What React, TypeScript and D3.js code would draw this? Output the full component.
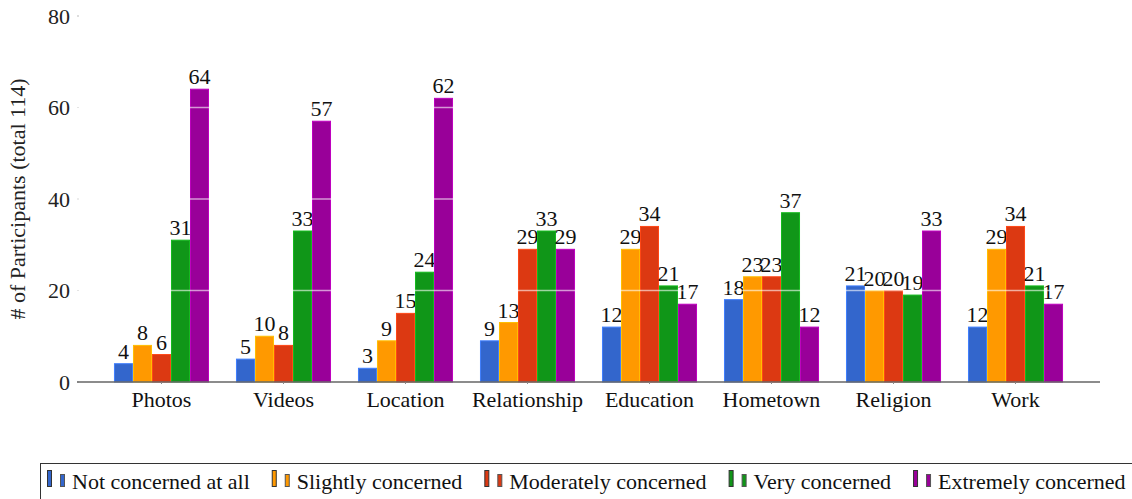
import React from "react";
import * as d3 from "d3";

const categories = ["Photos", "Videos", "Location", "Relationship", "Education", "Hometown", "Religion", "Work"];
const seriesNames = ["Not concerned at all", "Slightly concerned", "Moderately concerned", "Very concerned", "Extremely concerned"];
const notConcerned = [4, 5, 3, 9, 12, 18, 21, 12];
const slightly = [8, 10, 9, 13, 29, 23, 20, 29];
const moderately = [6, 8, 15, 29, 34, 23, 20, 34];
const very = [31, 33, 24, 33, 21, 37, 19, 21];
const extremely = [64, 57, 62, 29, 17, 12, 33, 17];
const yTicks = [0, 20, 40, 60, 80];
const colors = ["#3366cc", "#ff9900", "#dc3912", "#109618", "#990099"];

const seriesValues = [notConcerned, slightly, moderately, very, extremely];

const W = 1132;
const H = 499;
const FONT = "'Liberation Serif', 'Times New Roman', serif";
const FS = 22;

function measure(text: string, size: number) {
  const c = document.createElement("canvas").getContext("2d");
  if (!c) return text.length * size * 0.45;
  c.font = `${size}px ${FONT}`;
  return c.measureText(text).width;
}

export default function App() {
  const left = 77, right = 1100, top = 16, bottom = 382;
  const y = d3.scaleLinear().domain([0, 80]).range([bottom, top]);
  const x0 = d3.scaleBand<string>().domain(categories).range([left, right]).paddingInner(0.221).paddingOuter(0.303);
  const x1 = d3.scaleBand<number>().domain(d3.range(seriesNames.length)).range([0, x0.bandwidth()]).padding(0);

  const legendItems: { name: string; x: number; color: string }[] = [];
  let lx = 47;
  seriesNames.forEach((n, i) => {
    legendItems.push({ name: n, x: lx, color: colors[i] });
    lx += 25 + measure(n, FS) + 22;
  });

  return (
    <svg width={W} height={H} style={{ position: "absolute", left: 0, top: 0, background: "#fff" }} fontFamily={FONT}>
      {yTicks.map((t) => (
        <g key={t}>
          <text x={70} y={y(t)} dy="0.35em" textAnchor="end" fontSize={FS} fill="#222">{t}</text>
          <line x1={left} x2={left + 2} y1={y(t)} y2={y(t)} stroke="#bbb" strokeWidth={1} />
        </g>
      ))}
      <text transform={`translate(25,${(top + bottom) / 2}) rotate(-90)`} textAnchor="middle" fontSize={FS} fill="#222">
        # of Participants (total 114)
      </text>
      {categories.map((c, ci) => (
        <g key={c} transform={`translate(${x0(c)},0)`}>
          {seriesValues.map((vals, si) => {
            const v = vals[ci];
            const bx = x1(si)!;
            const col = d3.color(colors[si])!.brighter(0.6).formatHex();
            return (
              <g key={si}>
                <rect x={bx + 0.5} y={y(v)} width={x1.bandwidth() - 1} height={bottom - y(v)} fill={colors[si]} stroke={col} strokeWidth={1} />
                <text x={bx + x1.bandwidth() / 2} y={y(v) - 5} textAnchor="middle" fontSize={FS} fill="#111">{v}</text>
              </g>
            );
          })}
        </g>
      ))}
      {yTicks.filter((t) => t > 0 && t < 80).map((t) => (
        <line key={t} x1={left} x2={right} y1={y(t)} y2={y(t)} stroke="#fff" strokeOpacity={0.6} strokeWidth={1.5} />
      ))}
      <line x1={left} x2={right} y1={bottom} y2={bottom} stroke="#666" strokeWidth={1.5} />
      {categories.map((c) => (
        <g key={c}>
          <line x1={x0(c)! + x0.bandwidth() / 2} x2={x0(c)! + x0.bandwidth() / 2} y1={bottom} y2={bottom + 2} stroke="#888" />
          <text x={x0(c)! + x0.bandwidth() / 2} y={407} textAnchor="middle" fontSize={FS} fill="#111">{c}</text>
        </g>
      ))}
      <rect x={40.5} y={463.5} width={1100} height={50} fill="none" stroke="#333" strokeWidth={1} />
      {legendItems.map((it) => (
        <g key={it.name}>
          <rect x={it.x + 0.5} y={470.5} width={4} height={16} fill={it.color} stroke="#333" strokeWidth={1} />
          <rect x={it.x + 13.5} y={474.5} width={4} height={12} fill={it.color} stroke="#555" strokeWidth={1} />
          <text x={it.x + 25} y={489} fontSize={FS} fill="#111">{it.name}</text>
        </g>
      ))}
    </svg>
  );
}
